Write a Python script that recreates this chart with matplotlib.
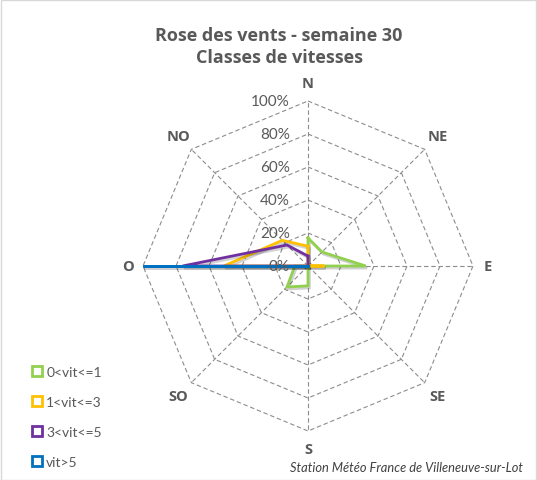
import numpy as np
import matplotlib
matplotlib.use("Agg")
import matplotlib.pyplot as plt
import matplotlib.patheffects as pe
from matplotlib.lines import Line2D
from matplotlib.patches import Rectangle

plt.rcParams["font.family"] = ["Lato", "DejaVu Sans"]

# wind directions, clockwise from north
directions = ["N", "NE", "E", "SE", "S", "SO", "O", "NO"]

# percentage of observations per direction for each speed class
v_0_1 = [17, 12, 35, 0, 12, 18, 8, 0]
v_1_3 = [12, 0, 10, 0, 0, 0, 51, 22]
v_3_5 = [6, 0, 0, 0, 0, 0, 76, 18]
v_5 = [0, 0, 0, 0, 0, 0, 100, 0]

classes = ["0<vit<=1", "1<vit<=3", "3<vit<=5", "vit>5"]
colors = ["#92D050", "#FFC000", "#7030A0", "#0070C0"]
ticks = [0, 20, 40, 60, 80, 100]
tick_labels = ["0%", "20%", "40%", "60%", "80%", "100%"]

text_col = "#595959"
bold_font = ["Open Sans", "DejaVu Sans"]
angles = np.deg2rad(np.arange(len(directions)) * 45)


def to_xy(vals):
    r = np.append(vals, vals[0])
    a = np.append(angles, angles[0])
    return r * np.sin(a), r * np.cos(a)


W, H = 537, 481
fig = plt.figure(figsize=(W / 100, H / 100), dpi=100)
fig.patches.append(Rectangle((0.5 / W, 0.5 / H), 1 - 1.5 / W, 1 - 1.5 / H,
                             transform=fig.transFigure, fill=False,
                             edgecolor="#d9d9d9", lw=1))

# axes placed so that 100% = 165 px around the centre at (308, 267)
scale = 1.65
half = 115 * scale
ax = fig.add_axes([(308 - half) / W, (H - 267 - half) / H, 2 * half / W, 2 * half / H])
ax.set_xlim(-115, 115)
ax.set_ylim(-115, 115)
ax.set_aspect("equal")
ax.axis("off")

# octagonal grid and spokes
for t in ticks[1:]:
    gx, gy = to_xy([t] * len(directions))
    ax.plot(gx, gy, color="#8c8c8c", lw=0.8, ls=(0, (4, 2.5)), zorder=1)
for a in angles:
    ax.plot([0, 100 * np.sin(a)], [0, 100 * np.cos(a)], color="#8c8c8c",
            lw=0.8, ls=(0, (4, 2.5)), zorder=1)

shadow = [pe.SimpleLineShadow(offset=(1, -1.5), alpha=0.18, shadow_color="black"), pe.Normal()]
for vals, col in zip([v_0_1, v_1_3, v_3_5, v_5], colors):
    x, y = to_xy(vals)
    ax.plot(x, y, color=col, lw=2.0, zorder=3, path_effects=shadow,
            solid_joinstyle="miter")

for t, lab in zip(ticks, tick_labels):
    ax.text(-11, t, lab, ha="right", va="center", fontsize=11,
            color=text_col, zorder=4)

for d, a in zip(directions, angles):
    r = 109 if d in ("E", "O") else 111
    ax.text(r * np.sin(a), r * np.cos(a), d, ha="center", va="center",
            fontsize=10.5, fontweight="bold", family=bold_font, color=text_col)

fig.text(279 / W, 1 - 47 / H, "Rose des vents - semaine 30\nClasses de vitesses",
         ha="center", va="center", fontsize=13, fontweight="bold",
         family=bold_font, color=text_col, linespacing=1.3)

fig.text(406 / W, 1 - 468 / H, "Station Météo France de Villeneuve-sur-Lot",
         ha="center", va="center", fontsize=9.3, style="italic", color="#404040")

handles = [Line2D([], [], ls="none", marker="s", markersize=7, markerfacecolor="white",
                  markeredgecolor=c, markeredgewidth=2) for c in colors]
fig.legend(handles, classes, loc="upper left", bbox_to_anchor=(24 / W, 1 - 360 / H),
           frameon=False, fontsize=10, labelcolor=text_col, handlelength=0.8,
           handletextpad=0.3, labelspacing=1.3, borderpad=0)

fig.savefig("out.png", dpi=100)
